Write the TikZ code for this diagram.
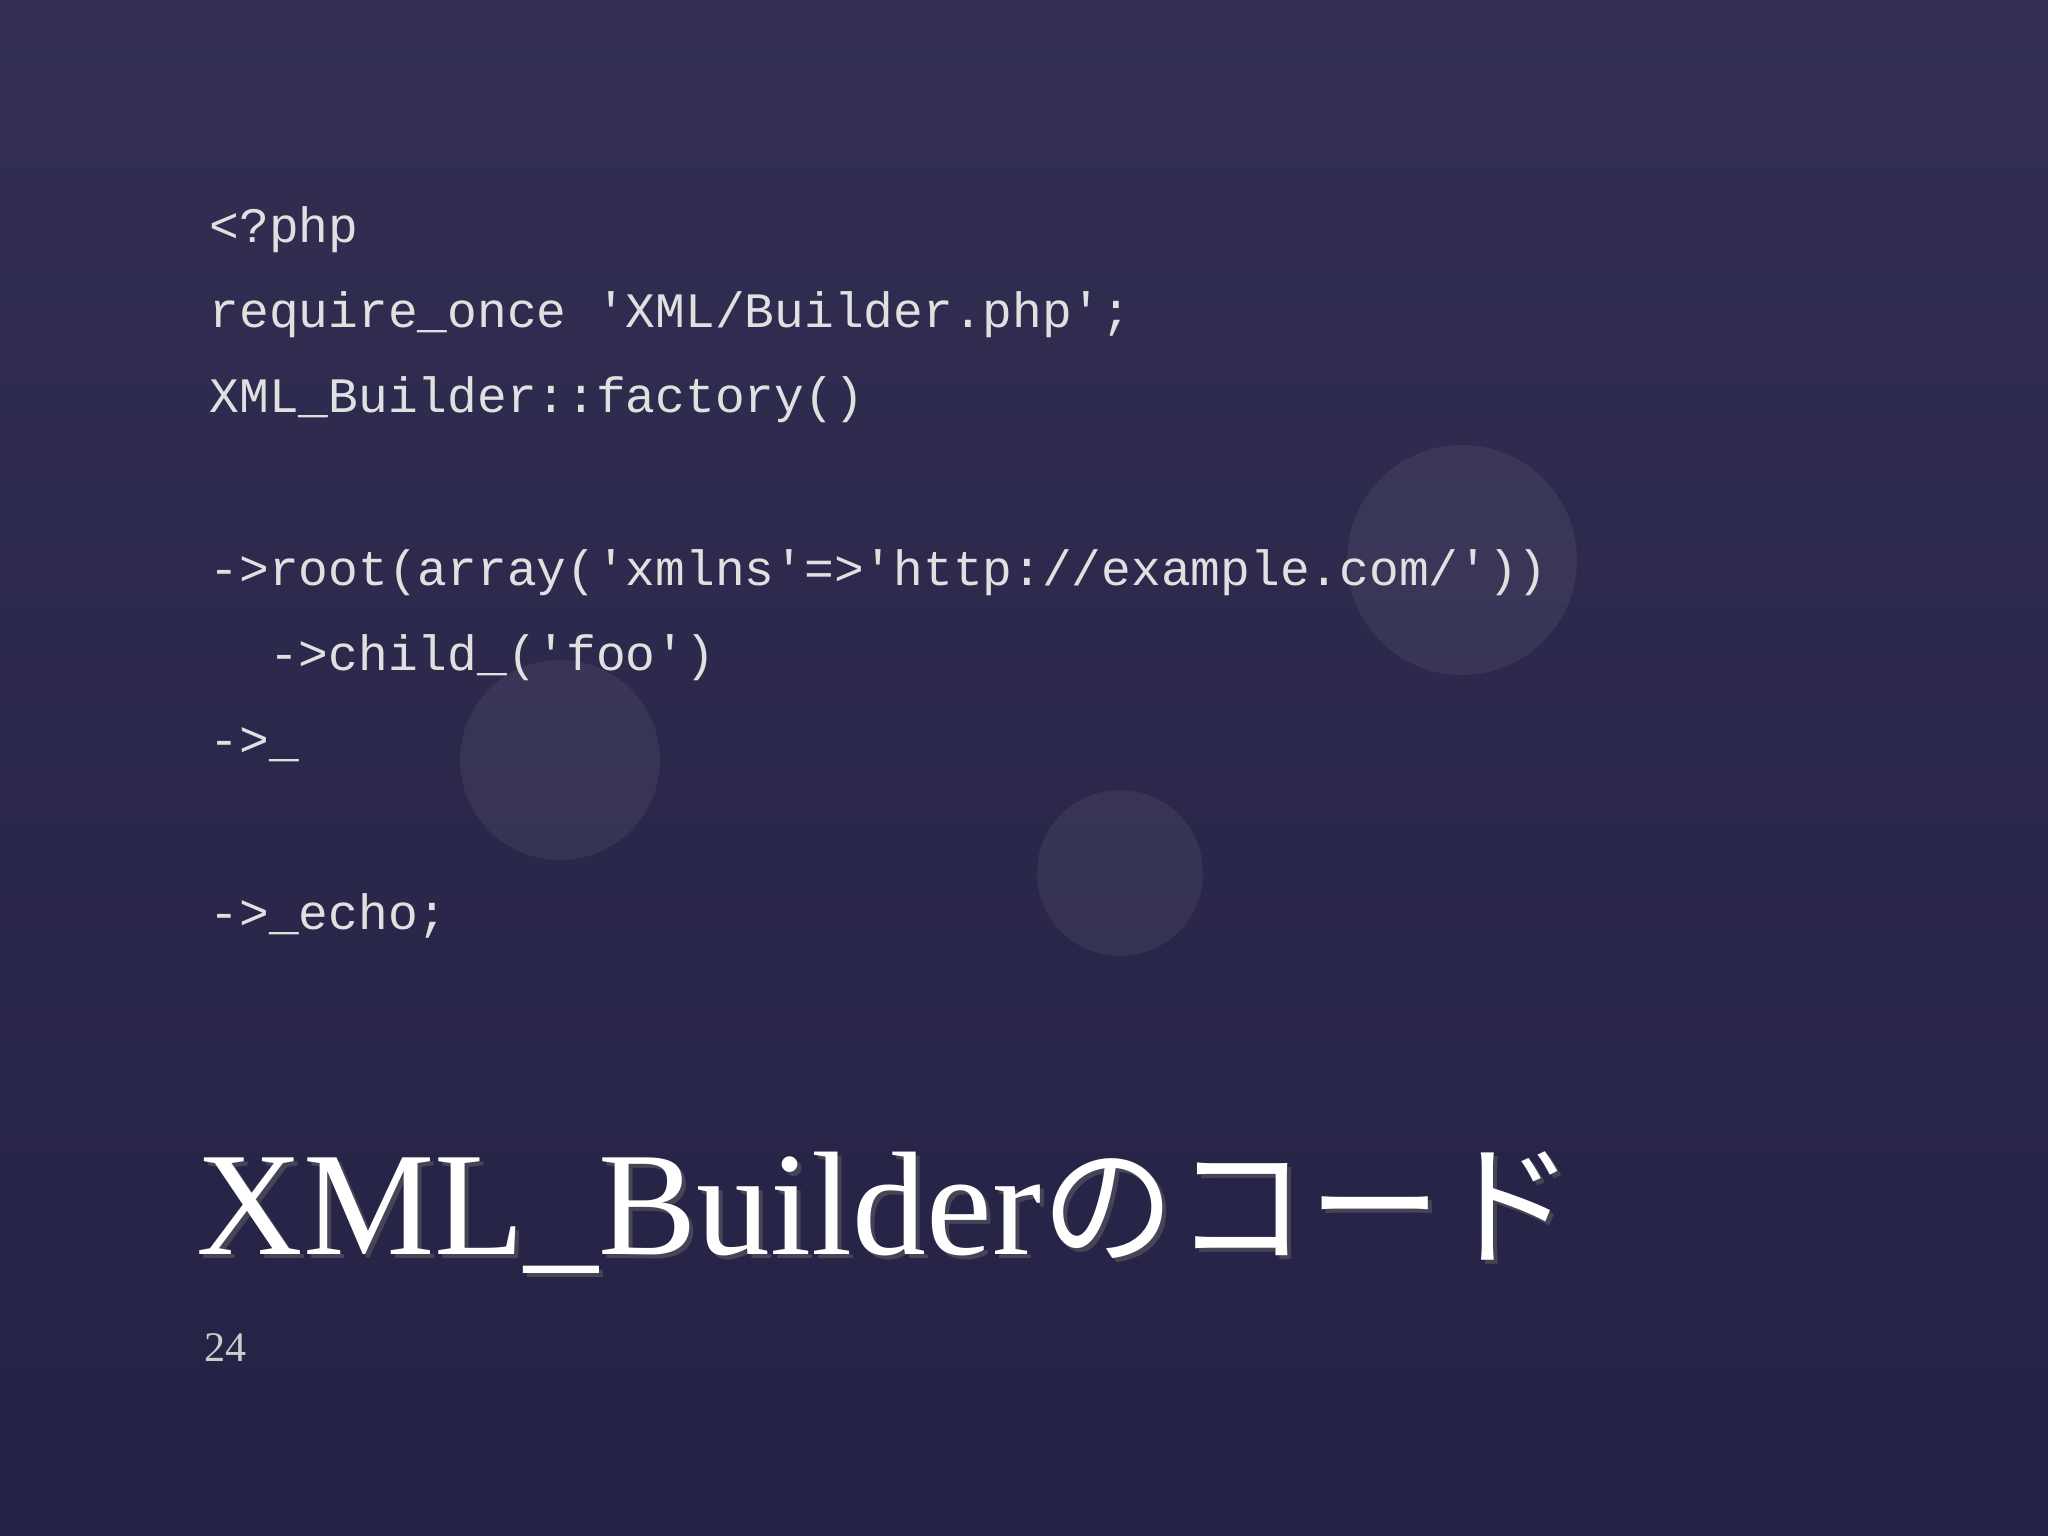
\documentclass[tikz,border=0pt]{standalone}
\usepackage{fontspec}
\setmainfont{Liberation Serif}
\setmonofont{Liberation Mono}
\newfontfamily\jpfont{Noto Sans CJK JP}
\begin{document}
\begin{tikzpicture}[x=1cm,y=1cm,
  code/.style={anchor=base west,inner sep=0pt,text=black!12!white,font=\ttfamily\fontsize{14.1}{18}\selectfont},
  circ/.style={fill=white,opacity=0.06}]
\useasboundingbox (0,0) rectangle (20.48,-15.36);
\shade[top color={rgb,255:red,50;green,47;blue,82}, bottom color={rgb,255:red,36;green,34;blue,68}] (0,0) rectangle (20.48,-15.36);
\fill[circ] (14.62,-5.6) circle (1.15);
\fill[circ] (5.6,-7.6) circle (1.0);
\fill[circ] (11.2,-8.73) circle (0.83);
\node[code] (l1) at (2.09,-2.43) {<?php};
\node[code] (l2) at (2.09,-3.28) {require\_once 'XML/Builder.php';};
\node[code] (l3) at (2.09,-4.13) {XML\_Builder::factory()};
\node[code] (l4) at (2.09,-5.86) {->root(array('xmlns'=>'http://example.com/'))};
\node[code] (l5) at (2.09,-6.71) {\ \ ->child\_('foo')};
\node[code] (l6) at (2.09,-7.56) {->\_};
\node[code] (l7) at (2.09,-9.29) {->\_echo;};
\node[anchor=base west,inner sep=0pt,text=black!60,opacity=0.5,font=\fontsize{42}{50}\selectfont] at (2.0,-12.58) {XML\_Builder{\jpfont\fontsize{38}{40}\selectfont のコード}};
\node[anchor=base west,inner sep=0pt,text=white,font=\fontsize{42}{50}\selectfont] (title) at (1.96,-12.54) {XML\_Builder{\jpfont\fontsize{38}{40}\selectfont のコード}};
\node[anchor=base west,inner sep=0pt,text=black!20!white,font=\fontsize{12}{14}\selectfont] (pg) at (2.04,-13.61) {24};
\end{tikzpicture}
\end{document}
